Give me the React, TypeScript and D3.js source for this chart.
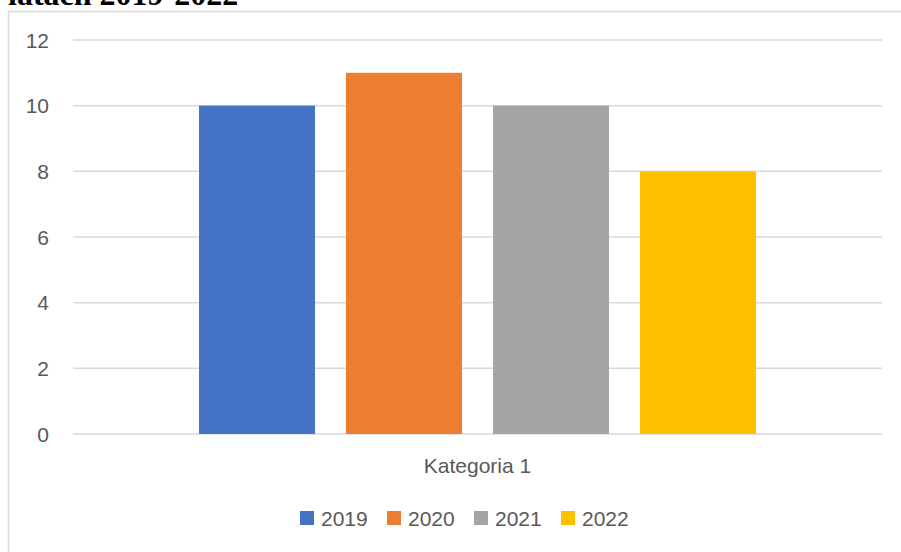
import * as d3 from 'd3';
import React, { useRef, useEffect } from 'react';

const years = ['2019', '2020', '2021', '2022'];
const values = [10, 11, 10, 8];
const colors = ['#4472c4', '#ed7d31', '#a5a5a5', '#ffc000'];
const yTicks = [0, 2, 4, 6, 8, 10, 12];
const category = 'Kategoria 1';

const App = () => {
    const svgRef = useRef<SVGSVGElement>(null);
    const width = 901;
    const height = 552;

    useEffect(() => {
        draw();
    }, []);

    const draw = () => {
        const svg = d3.select(svgRef.current);
        svg.selectAll('*').remove();

        const plot = { left: 73, right: 882, top: 40, bottom: 434 };
        const font = '"Liberation Sans", Arial, sans-serif';

        // chart frame
        svg.append('rect')
            .attr('x', 8.5).attr('y', 11.5)
            .attr('width', 920).attr('height', 600)
            .attr('fill', 'white')
            .attr('stroke', '#d9d9d9')
            .attr('stroke-width', 1.5);

        // clipped title from the document
        svg.append('text')
            .attr('x', 8).attr('y', 5)
            .attr('font-family', '"Liberation Serif", "Times New Roman", serif')
            .attr('font-weight', 'bold')
            .attr('font-size', 32)
            .attr('fill', '#000')
            .text('latach 2019-2022');

        const yScale = d3.scaleLinear().domain([0, 12]).range([plot.bottom, plot.top]);
        const xCat = d3.scaleBand().domain([category]).range([plot.left, plot.right]);
        const groupWidth = 557;
        const xYear = d3.scaleBand()
            .domain(years)
            .range([0, groupWidth])
            .paddingInner(31 / 147);

        svg.append('g')
            .selectAll('line')
            .data(yTicks)
            .enter()
            .append('line')
            .attr('x1', plot.left).attr('x2', plot.right)
            .attr('y1', (d) => yScale(d)).attr('y2', (d) => yScale(d))
            .attr('stroke', '#d9d9d9')
            .attr('stroke-width', 1.5);

        svg.append('g')
            .selectAll('text')
            .data(yTicks)
            .enter()
            .append('text')
            .attr('x', 49)
            .attr('y', (d) => yScale(d) + 7.5)
            .attr('text-anchor', 'end')
            .attr('font-family', font)
            .attr('font-size', 21)
            .attr('fill', '#595959')
            .text((d) => d);

        const groupX = (xCat(category) as number) + (xCat.bandwidth() - groupWidth) / 2;

        svg.append('g')
            .selectAll('rect')
            .data(values)
            .enter()
            .append('rect')
            .attr('x', (d, i) => groupX + (xYear(years[i]) as number))
            .attr('y', (d) => yScale(d))
            .attr('width', xYear.bandwidth())
            .attr('height', (d) => plot.bottom - yScale(d))
            .attr('fill', (d, i) => colors[i]);

        svg.append('text')
            .attr('x', (xCat(category) as number) + xCat.bandwidth() / 2)
            .attr('y', 473)
            .attr('text-anchor', 'middle')
            .attr('font-family', font)
            .attr('font-size', 21)
            .attr('fill', '#595959')
            .text(category);

        // legend
        const legend = svg.append('g')
            .selectAll('g')
            .data(years)
            .enter()
            .append('g')
            .attr('transform', (d, i) => `translate(${300 + i * 87}, 511)`);

        legend.append('rect')
            .attr('width', 14).attr('height', 14)
            .attr('fill', (d, i) => colors[i]);

        legend.append('text')
            .attr('x', 21).attr('y', 14.5)
            .attr('font-family', font)
            .attr('font-size', 21)
            .attr('fill', '#595959')
            .text((d) => d);
    };

    return (
        <svg ref={svgRef} width={width} height={height}
            style={{ position: 'absolute', left: 0, top: 0, display: 'block' }}>
        </svg>
    );
};

export default App;
